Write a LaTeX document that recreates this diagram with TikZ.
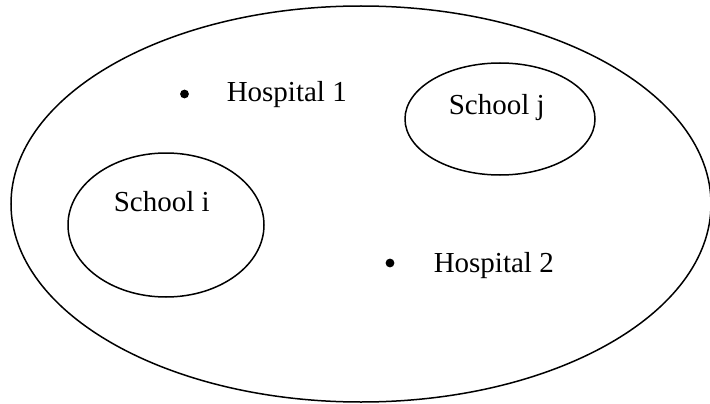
\documentclass[tikz,border=0pt]{standalone}
\usepackage{fontspec}
\setmainfont{Liberation Serif}

\begin{document}
\begin{tikzpicture}[x=1pt,y=-1pt,line width=1.5pt,
  lbl/.style={inner sep=0pt,anchor=base west,font=\fontsize{29}{34}\selectfont}]
\useasboundingbox (0,0) rectangle (710,404);
%outer region
\coordinate (region) at (361,204);
\draw (region) ellipse [x radius=350, y radius=198];
%schools
\coordinate (schooli) at (166,225); \coordinate (schoolj) at (500,119);
\draw (schooli) ellipse [x radius=98, y radius=72];
\draw (schoolj) ellipse [x radius=95, y radius=56];
\node[lbl] (schoolitext) at (113,211) {School i};
\node[lbl] (schooljtext) at (448,114) {School j};
%hospitals
\fill (184.5,94) circle (4.4);
\fill (390,263) circle (4.4);
\node[lbl] (hosp1) at (226,102) {Hospital 1};
\node[lbl] (hosp2) at (433,272) {Hospital 2};
\end{tikzpicture}
\end{document}
